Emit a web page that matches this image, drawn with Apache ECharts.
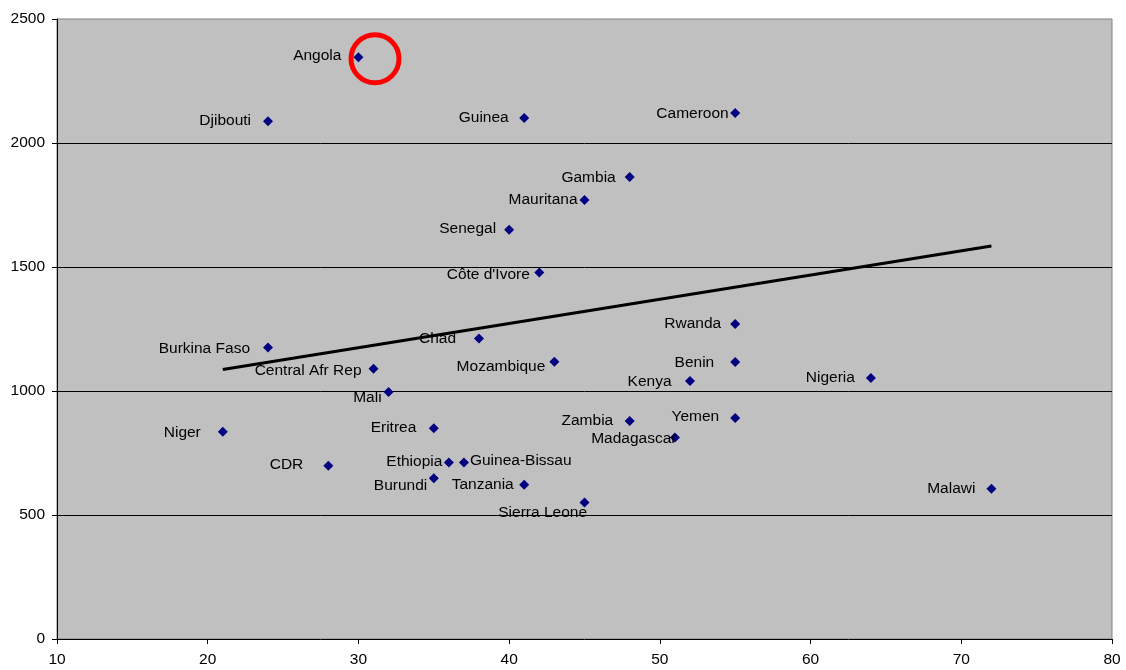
<!DOCTYPE html>
<html>
<head>
<meta charset="utf-8">
<title>Scatter by country</title>
<script src="https://cdn.jsdelivr.net/npm/echarts@6/dist/echarts.min.js"></script>
<style>
  html, body { margin: 0; padding: 0; background: #ffffff; }
  #chart { width: 1126px; height: 670px; }
</style>
</head>
<body>
<div id="chart"></div>
<script>
// Country values
const countries = [
  'Angola', 'Djibouti', 'Guinea', 'Cameroon', 'Gambia', 'Mauritana', 'Senegal',
  "Côte d'Ivore", 'Rwanda', 'Chad', 'Burkina Faso', 'Mozambique', 'Benin',
  'Central Afr Rep', 'Kenya', 'Nigeria', 'Mali', 'Niger', 'Eritrea', 'Zambia',
  'Yemen', 'Madagascar', 'CDR', 'Ethiopia', 'Guinea-Bissau', 'Burundi',
  'Tanzania', 'Sierra Leone', 'Malawi'
];
const xValues = [
  30, 24, 41, 55, 48, 45, 40,
  42, 55, 38, 24, 43, 55,
  31, 52, 64, 32, 21, 35, 48,
  55, 51, 28, 36, 37, 35,
  41, 45, 72
];
const yValues = [
  2346, 2088, 2101, 2121, 1863, 1770, 1650,
  1478, 1270, 1212, 1175, 1118, 1117,
  1090, 1040, 1052, 996, 836, 850, 879,
  891, 812, 699, 712, 712, 648,
  622, 550, 606
];

// Trend line end points
const trendX = [21, 72];
const trendY = [1087, 1585];

// Highlight ring around Angola
const highlightX = [31.1];
const highlightY = [2340];

// Axis ticks
const xTicks = [10, 20, 30, 40, 50, 60, 70, 80];
const yTicks = [0, 500, 1000, 1500, 2000, 2500];

// Label placement per country: side, distance from marker, vertical shift
const labelPlacement = {
  'Angola': ['left', 12, -3],
  'Djibouti': ['left', 12, -2],
  'Guinea': ['left', 10.5, -2],
  'Cameroon': ['left', 1.5, -1],
  'Gambia': ['left', 9, -1],
  'Mauritana': ['left', 2, -2],
  'Senegal': ['left', 8, -3],
  "Côte d'Ivore": ['left', 4.5, 0],
  'Rwanda': ['left', 9, -2],
  'Chad': ['left', 18, -2],
  'Burkina Faso': ['left', 13, -1],
  'Mozambique': ['left', 4, 3],
  'Benin': ['left', 16, -1],
  'Central Afr Rep': ['left', 7, 0],
  'Kenya': ['left', 13.5, -1],
  'Nigeria': ['left', 11, -2],
  'Mali': ['left', 2, 4],
  'Niger': ['left', 17, -1],
  'Eritrea': ['left', 12.5, -2],
  'Zambia': ['left', 11.5, -2],
  'Yemen': ['left', 11, -3],
  'Madagascar': ['left', -6.5, -1],
  'CDR': ['left', 20, -3],
  'Ethiopia': ['left', 1.5, -3],
  'Guinea-Bissau': ['right', 1, -4],
  'Burundi': ['left', 1.5, 5],
  'Tanzania': ['left', 5.5, -2],
  'Sierra Leone': ['left', -7.5, 8],
  'Malawi': ['left', 11, -2]
};

const FONT = 'Liberation Sans, Arial, sans-serif';
// Glyph baseline correction for the label font
const LABEL_SHIFT = 2;

const points = countries.map((name, i) => {
  const p = labelPlacement[name] || ['left', 10, 0];
  return {
    name: name,
    value: [xValues[i], yValues[i]],
    label: {
      position: p[0],
      distance: p[1],
      offset: [0, p[2] + LABEL_SHIFT]
    }
  };
});

const chart = echarts.init(document.getElementById('chart'), null, { renderer: 'canvas' });

chart.setOption({
  animation: false,
  backgroundColor: '#ffffff',
  textStyle: { fontFamily: FONT },
  grid: {
    left: 57,
    right: 14,
    top: 19,
    bottom: 31,
    show: true,
    backgroundColor: '#c0c0c0',
    borderColor: '#808080',
    borderWidth: 1
  },
  xAxis: {
    type: 'value',
    min: xTicks[0],
    max: xTicks[xTicks.length - 1],
    interval: xTicks[1] - xTicks[0],
    axisLine: { show: true, onZero: false, lineStyle: { color: '#000000', width: 1 } },
    axisTick: { show: true, inside: false, length: 5, lineStyle: { color: '#000000' } },
    axisLabel: { color: '#000000', fontSize: 15.5, fontFamily: FONT, margin: 13, formatter: (v) => String(v) },
    splitLine: { show: false }
  },
  yAxis: {
    type: 'value',
    min: yTicks[0],
    max: yTicks[yTicks.length - 1],
    interval: yTicks[1] - yTicks[0],
    axisLine: { show: true, onZero: false, lineStyle: { color: '#000000', width: 1 } },
    axisTick: { show: true, inside: false, length: 5, lineStyle: { color: '#000000' } },
    axisLabel: { color: '#000000', fontSize: 15.5, fontFamily: FONT, margin: 12, formatter: (v) => String(v) },
    splitLine: {
      show: true,
      showMinLine: false,
      showMaxLine: false,
      lineStyle: { color: '#000000', width: 1 }
    }
  },
  series: [
    {
      name: 'Countries',
      type: 'scatter',
      symbol: 'diamond',
      symbolSize: 10,
      itemStyle: { color: '#000080', opacity: 1 },
      label: {
        show: true,
        formatter: '{b}',
        color: '#000000',
        fontSize: 15.5,
        fontFamily: FONT
      },
      data: points,
      z: 3
    },
    {
      name: 'Trend',
      type: 'line',
      symbol: 'none',
      silent: true,
      lineStyle: { color: '#000000', width: 3 },
      data: trendX.map((x, i) => [x, trendY[i]]),
      z: 4
    },
    {
      name: 'Highlight',
      type: 'scatter',
      symbol: 'circle',
      symbolSize: 48,
      silent: true,
      itemStyle: {
        color: 'rgba(0,0,0,0)',
        borderColor: '#ff0000',
        borderWidth: 5,
        opacity: 1
      },
      data: highlightX.map((x, i) => [x, highlightY[i]]),
      z: 5
    }
  ]
});
</script>
</body>
</html>
